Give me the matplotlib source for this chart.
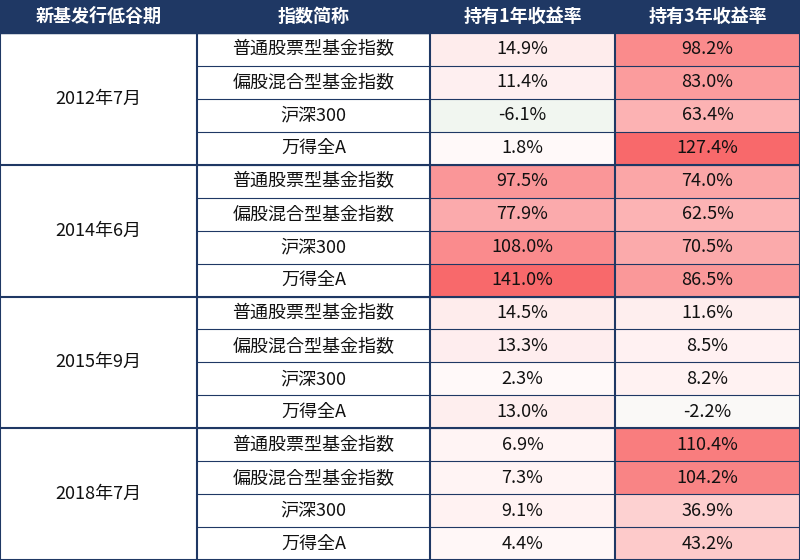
import matplotlib
matplotlib.use("Agg")
import matplotlib.pyplot as plt
from matplotlib.patches import Rectangle
from matplotlib import font_manager as fm
import numpy as np

cjk = None
for f in fm.findSystemFonts():
    if "CJK" in f or "cjk" in f.lower():
        try:
            fm.fontManager.addfont(f)
            name = fm.FontProperties(fname=f).get_name()
            if cjk is None or "SC" in name:
                cjk = name
        except Exception:
            pass
plt.rcParams["font.family"] = [cjk or "Noto Sans CJK SC", "DejaVu Sans"]

headers = ["新基发行低谷期", "指数简称", "持有1年收益率", "持有3年收益率"]
periods = ["2012年7月", "2014年6月", "2015年9月", "2018年7月"]
indices = ["普通股票型基金指数", "偏股混合型基金指数", "沪深300", "万得全A"]
ret1 = [14.9, 11.4, -6.1, 1.8, 97.5, 77.9, 108.0, 141.0, 14.5, 13.3, 2.3, 13.0, 6.9, 7.3, 9.1, 4.4]
ret3 = [98.2, 83.0, 63.4, 127.4, 74.0, 62.5, 70.5, 86.5, 11.6, 8.5, 8.2, -2.2, 110.4, 104.2, 36.9, 43.2]

col_edges = [0, 197, 430, 615, 800]
head_h = 33
W, H = 800, 560
row_h = (H - head_h) / len(ret1)
navy = "#1f3864"

def cell_color(v, vmax):
    red = np.array([0.973, 0.412, 0.420])
    white = np.array([1.0, 0.985, 0.985])
    green = np.array([0.93, 0.96, 0.93])
    if v < 0:
        t = min(-v / 8.0, 1.0)
        return white + (green - white) * t
    t = v / vmax
    return white + (red - white) * t

fig = plt.figure(figsize=(8, 5.6), dpi=100)
ax = fig.add_axes([0, 0, 1, 1])
ax.set_xlim(0, W)
ax.set_ylim(H, 0)
ax.axis("off")

ax.add_patch(Rectangle((0, 0), W, head_h, color=navy))
for j, h in enumerate(headers):
    ax.text((col_edges[j] + col_edges[j+1]) / 2, head_h / 2, h, color="white",
            fontsize=13, fontweight="bold", ha="center", va="center")

for i in range(len(ret1)):
    y = head_h + i * row_h
    for j, vals in ((2, ret1), (3, ret3)):
        ax.add_patch(Rectangle((col_edges[j], y), col_edges[j+1] - col_edges[j], row_h,
                               facecolor=cell_color(vals[i], max(vals)), edgecolor="none"))
        ax.text((col_edges[j] + col_edges[j+1]) / 2, y + row_h / 2, f"{vals[i]:.1f}%",
                fontsize=13, ha="center", va="center", color="#111111")
    ax.text((col_edges[1] + col_edges[2]) / 2, y + row_h / 2, indices[i % 4],
            fontsize=13, ha="center", va="center", color="#111111")
    ax.plot([col_edges[1], W], [y, y], color=navy, lw=0.8)

for g, p in enumerate(periods):
    y0 = head_h + g * 4 * row_h
    ax.text((col_edges[0] + col_edges[1]) / 2, y0 + 2 * row_h, p,
            fontsize=13, ha="center", va="center", color="#111111")
    ax.plot([0, W], [y0, y0], color=navy, lw=1.5)

for x in col_edges:
    ax.plot([x, x], [0, H], color=navy, lw=1.5)
ax.plot([0, W], [H - 0.5, H - 0.5], color=navy, lw=1.5)

fig.savefig("out.png", dpi=100)
